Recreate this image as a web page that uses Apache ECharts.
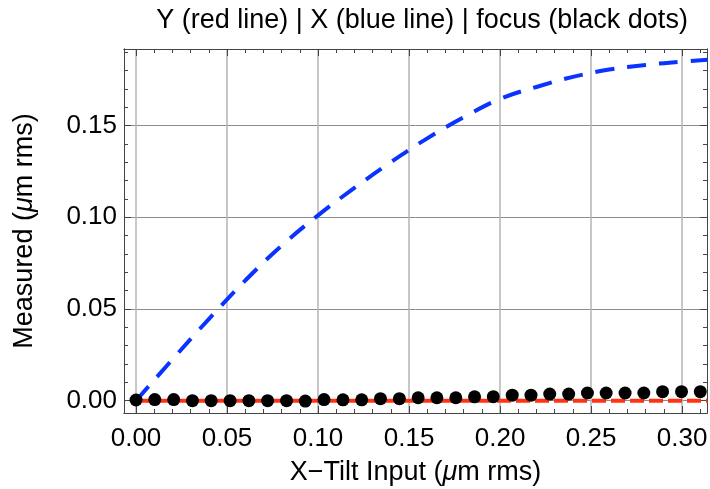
<!DOCTYPE html>
<html>
<head>
<meta charset="utf-8">
<script src="https://cdn.jsdelivr.net/npm/echarts@6/dist/echarts.min.js"></script>
<style>
  html, body { margin: 0; padding: 0; background: #fff; }
  #chart { width: 710px; height: 489px; }
</style>
</head>
<body>
<div id="chart"></div>
<script>
// X tilt (blue dashed curve)
const blueX = [0, 0.02, 0.04, 0.06, 0.08, 0.10, 0.12, 0.14, 0.16, 0.18, 0.20, 0.22, 0.24, 0.26, 0.28, 0.30, 0.314];
const blueY = [0, 0.0225, 0.0445, 0.0655, 0.0845, 0.1010, 0.1160, 0.1300, 0.1430, 0.1545, 0.1645, 0.1710, 0.1765, 0.1805, 0.1830, 0.1848, 0.1858];

// Y tilt (red dashed line), flat at zero
const redX = [0, 0.314];
const redY = [0, 0];

// focus (black dots)
const dotX = [0, 0.0103, 0.0207, 0.031, 0.0413, 0.0517, 0.062, 0.0723, 0.0827, 0.093, 0.1033,
  0.1137, 0.124, 0.1343, 0.1447, 0.155, 0.1653, 0.1757, 0.186, 0.1963, 0.2067,
  0.217, 0.2273, 0.2377, 0.248, 0.2583, 0.2687, 0.279, 0.2893, 0.2997, 0.31];
const dotY = [0.0004, 0.0006, 0.0006, 0, 0, 0, 0, 0, 0, -0.0002, 0.0006,
  0.0005, 0.0005, 0.0011, 0.0011, 0.0016, 0.0016, 0.0016, 0.0021, 0.0022, 0.003,
  0.003, 0.0036, 0.0036, 0.0042, 0.0042, 0.0042, 0.0042, 0.0049, 0.0049, 0.0049];

// tick labels
const xMajor = [0, 0.05, 0.10, 0.15, 0.20, 0.25, 0.30];
const xMinor = [0.01, 0.02, 0.03, 0.04, 0.06, 0.07, 0.08, 0.09, 0.11, 0.12, 0.13, 0.14,
  0.16, 0.17, 0.18, 0.19, 0.21, 0.22, 0.23, 0.24, 0.26, 0.27, 0.28, 0.29, 0.31];
const yMajor = [0, 0.05, 0.10, 0.15];
const yMinor = [0.01, 0.02, 0.03, 0.04, 0.06, 0.07, 0.08, 0.09, 0.11, 0.12, 0.13, 0.14,
  0.16, 0.17, 0.18, 0.19];

const xMin = -0.0066, xMax = 0.3137;
const yMin = -0.0067, yMax = 0.1917;

const font = 'Liberation Sans, Arial, Helvetica, sans-serif';
const zip = (a, b) => a.map((v, i) => [v, b[i]]);

// one axis of the frame: either major ticks (with/without labels) or minor ticks
function frameAxis(kind, pos, ticks, len, withLabels, grid) {
  return {
    type: 'value',
    position: pos,
    min: kind === 'x' ? xMin : yMin,
    max: kind === 'x' ? xMax : yMax,
    axisLine: { show: true, onZero: false, lineStyle: { color: '#444', width: 1 } },
    axisTick: { show: true, inside: true, length: len, customValues: ticks, lineStyle: { color: '#444', width: 1 } },
    axisLabel: {
      show: withLabels,
      customValues: ticks,
      formatter: (v) => v.toFixed(2),
      color: '#000',
      fontSize: 26,
      fontFamily: font,
      margin: kind === 'x' ? 13 : 7
    },
    splitLine: grid ? { show: true, lineStyle: { color: kind === 'x' ? '#b4b4b4' : '#8c8c8c', width: kind === 'x' ? 1.5 : 1 } } : { show: false }
  };
}

const nameStyle = {
  fontSize: 27,
  fontFamily: font,
  color: '#000',
  rich: { i: { fontStyle: 'italic', fontSize: 27, fontFamily: font, color: '#000' } }
};

const chart = echarts.init(document.getElementById('chart'));

const xAxes = [
  Object.assign(frameAxis('x', 'bottom', xMajor, 7, true, true), {
    name: 'X\u2212Tilt Input ({i|\u03bc}m rms)',
    nameLocation: 'middle',
    nameGap: 46,
    nameTextStyle: nameStyle
  }),
  frameAxis('x', 'bottom', xMinor, 4, false, false),
  frameAxis('x', 'top', xMajor, 7, false, false),
  frameAxis('x', 'top', xMinor, 4, false, false)
];
const yAxes = [
  Object.assign(frameAxis('y', 'left', yMajor, 7, true, true), {
    name: 'Measured ({i|\u03bc}m rms)',
    nameLocation: 'middle',
    nameGap: 86,
    nameTextStyle: nameStyle
  }),
  frameAxis('y', 'left', yMinor, 4, false, false),
  frameAxis('y', 'right', yMajor, 7, false, false),
  frameAxis('y', 'right', yMinor, 4, false, false)
];

chart.setOption({
  animation: false,
  title: {
    text: 'Y (red line) | X (blue line) | focus (black dots)',
    left: 417,
    textAlign: 'center',
    top: 2,
    textStyle: { fontSize: 27, fontWeight: 'normal', fontFamily: font, color: '#000' }
  },
  grid: { left: 124, right: 3, top: 49, bottom: 76, containLabel: false, outerBoundsMode: 'none' },
  xAxis: xAxes,
  yAxis: yAxes,
  series: [
    {
      name: 'Y',
      type: 'line',
      data: zip(redX, redY),
      symbol: 'none',
      lineStyle: { color: '#ff3311', width: 4, type: [14, 5] }
    },
    {
      name: 'X',
      type: 'line',
      data: zip(blueX, blueY),
      smooth: 0.4,
      symbol: 'none',
      lineStyle: { color: '#0a33ff', width: 4, type: [19, 13] }
    },
    {
      name: 'focus',
      type: 'scatter',
      data: zip(dotX, dotY),
      symbolSize: 13,
      itemStyle: { color: '#000', opacity: 1 },
      z: 5
    }
  ]
});
</script>
</body>
</html>
